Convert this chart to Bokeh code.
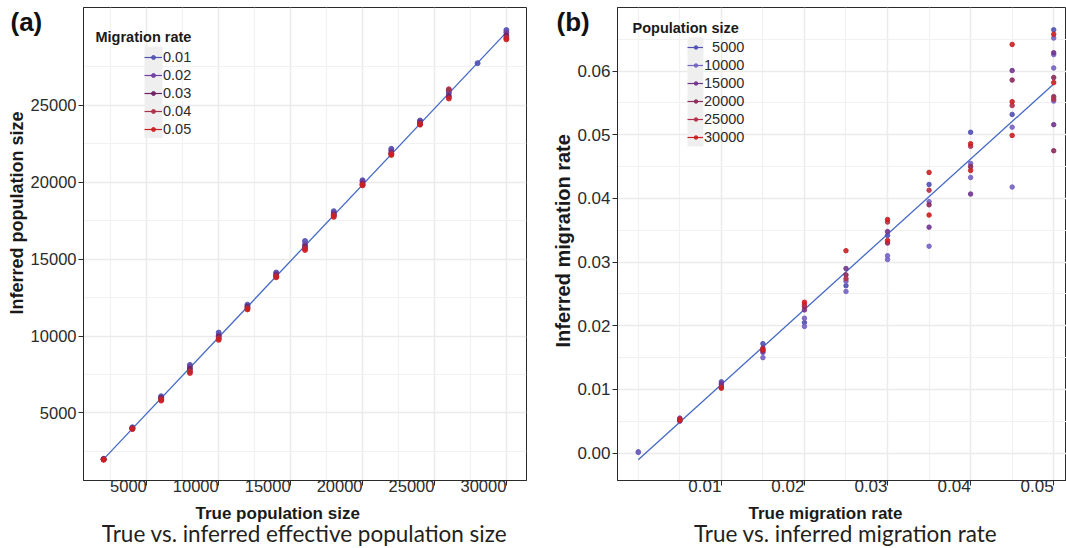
import numpy as np
from bokeh.plotting import figure
from bokeh.layouts import row
from bokeh.models import (FixedTicker, Legend, LegendItem, Label, Title,
                          BoxAnnotation, GridBox)
from bokeh.embed import file_html
from bokeh.resources import INLINE

# ---------------- data: panel (a) ----------------
rate_labels = ["0.01", "0.02", "0.03", "0.04", "0.05"]
rate_colors = ["#5151b3", "#6d3f9e", "#6e2160", "#a83249", "#cc1f22"]
true_n_all = [2000, 4000, 6000, 8000, 10000, 12000, 14000, 16000, 18000,
              20000, 22000, 24000, 26000, 28000, 30000]
true_n_sub = [2000, 4000, 6000, 8000, 10000, 12000, 14000, 16000, 18000,
              20000, 22000, 24000, 26000, 30000]
inf_n_r01 = [2010, 4060, 6080, 8120, 10220, 12040, 14130, 16180, 18120,
             20130, 22180, 24020, 25800, 27750, 29900]
inf_n_r02 = [1990, 4020, 6000, 8000, 10050, 11950, 14050, 15950, 18000,
             20050, 22050, 23950, 25950, 29750]
inf_n_r03 = [1980, 3990, 5950, 7850, 9950, 11880, 13950, 15800, 17900,
             19900, 21900, 23850, 25600, 29550]
inf_n_r04 = [1970, 3970, 5880, 7700, 9850, 11800, 13880, 15700, 17850,
             19850, 21850, 23800, 26050, 29400]
inf_n_r05 = [1950, 3950, 5800, 7600, 9750, 11730, 13820, 15600, 17750,
             19800, 21780, 23750, 25450, 29300]
fit_n_x = [2000, 30000]
fit_n_y = [1990, 29750]
a_xticks = [5000, 10000, 15000, 20000, 25000, 30000]
a_yticks = [5000, 10000, 15000, 20000, 25000]
a_minor = [2500, 7500, 12500, 17500, 22500, 27500]

# ---------------- data: panel (b) ----------------
pop_labels = ["5000", "10000", "15000", "20000", "25000", "30000"]
pop_colors = ["#5151b3", "#7563c2", "#72358f", "#8b2a5b", "#b5304a", "#cc1f22"]
m_p5000_x = [0.0, 0.005, 0.01, 0.015, 0.02, 0.025, 0.03, 0.035, 0.04, 0.045, 0.05]
m_p5000_y = [0.0002, 0.0055, 0.0112, 0.0172, 0.0205, 0.0263, 0.0342, 0.0422, 0.0504, 0.0532, 0.0665]
m_p10000_x = [0.0, 0.005, 0.01, 0.015, 0.015, 0.02, 0.02, 0.025, 0.025, 0.03, 0.03, 0.035, 0.035,
              0.04, 0.04, 0.045, 0.045, 0.05, 0.05, 0.05, 0.05]
m_p10000_y = [0.0001, 0.0050, 0.0107, 0.0150, 0.0158, 0.0199, 0.0212, 0.0254, 0.0270, 0.0310, 0.0304,
              0.0325, 0.0395, 0.0433, 0.0455, 0.0418, 0.0512, 0.0652, 0.0605, 0.0553, 0.0626]
m_p15000_x = [0.005, 0.01, 0.015, 0.02, 0.025, 0.03, 0.035, 0.04, 0.045, 0.05, 0.05]
m_p15000_y = [0.0053, 0.0109, 0.0160, 0.0225, 0.0290, 0.0348, 0.0355, 0.0407, 0.0601, 0.0629, 0.0516]
m_p20000_x = [0.005, 0.01, 0.015, 0.02, 0.025, 0.03, 0.035, 0.04, 0.045, 0.05, 0.05, 0.05]
m_p20000_y = [0.0051, 0.0104, 0.0165, 0.0230, 0.0280, 0.0330, 0.0390, 0.0450, 0.0586, 0.0590, 0.0475, 0.0560]
m_p25000_x = [0.005, 0.01, 0.015, 0.02, 0.025, 0.03, 0.035, 0.04, 0.045, 0.05]
m_p25000_y = [0.0054, 0.0103, 0.0163, 0.0233, 0.0274, 0.0363, 0.0413, 0.0482, 0.0546, 0.0556]
m_p30000_x = [0.005, 0.01, 0.015, 0.02, 0.025, 0.03, 0.03, 0.035, 0.035, 0.04, 0.04, 0.045, 0.045,
              0.045, 0.05, 0.05]
m_p30000_y = [0.0052, 0.0102, 0.0162, 0.0237, 0.0318, 0.0367, 0.0334, 0.0441, 0.0374, 0.0486, 0.0444,
              0.0642, 0.0499, 0.0552, 0.0658, 0.0582]
fit_m_x = [0.0, 0.05]
fit_m_y = [-0.00104, 0.0580]
b_xticks = [0.01, 0.02, 0.03, 0.04, 0.05]
b_xminor = [0.0, 0.005, 0.015, 0.025, 0.035, 0.045]
b_yticks = [0.0, 0.01, 0.02, 0.03, 0.04, 0.05, 0.06]
b_yminor = [0.005, 0.015, 0.025, 0.035, 0.045, 0.055, 0.065]

captions = ["True vs. inferred effective population size", "True vs. inferred migration rate"]
panel_tags = ["(a)", "(b)"]

TICK_FONT = "Liberation Sans"
LINE_COLOR = "#4469c6"
DARK = "#2a2a2a"


def base_style(p, xt, xm, yt, ym, fs):
    p.xaxis.ticker = FixedTicker(ticks=xt, minor_ticks=xm)
    p.yaxis.ticker = FixedTicker(ticks=yt, minor_ticks=ym)
    for ax in (p.xaxis[0], p.yaxis[0]):
        ax.major_label_text_font = TICK_FONT
        ax.major_label_text_font_size = fs
        ax.major_label_text_color = "#2b2b2b"
        ax.axis_line_color = DARK
        ax.major_tick_line_color = DARK
        ax.major_tick_out = 5
        ax.major_tick_in = 0
        ax.minor_tick_out = 0
        ax.minor_tick_in = 0
        ax.major_label_standoff = 2
    p.xaxis.major_label_orientation = 0.0001
    p.xaxis.major_label_standoff = 0
    for g in (p.xgrid[0], p.ygrid[0]):
        g.grid_line_color = "#ebebeb"
        g.grid_line_width = 1.5
        g.minor_grid_line_color = "#f1f1f1"
        g.minor_grid_line_width = 1.2
    p.outline_line_color = DARK
    p.outline_line_width = 1
    p.background_fill_color = "white"
    p.border_fill_color = "white"


def add_titles(p, xtitle, xoff, ytitle, yoff, yfs):
    p.add_layout(Title(text=ytitle, align="left", offset=yoff, text_font=TICK_FONT,
                       text_font_size=yfs, text_font_style="bold",
                       text_color="#1a1a1a", standoff=2), "left")
    p.add_layout(Title(text=xtitle, align="left", offset=xoff, text_font=TICK_FONT,
                       text_font_size="17px", text_font_style="bold",
                       text_color="#1a1a1a", standoff=2), "below")


def add_legend(p, labels, scatters, lines, x, y, gw, dotw, strip_h):
    p.add_layout(BoxAnnotation(left=x, right=x + gw, top=y + strip_h, bottom=y,
                               left_units="screen", right_units="screen",
                               top_units="screen", bottom_units="screen",
                               fill_color="#efefef", fill_alpha=1, line_color=None))
    common = dict(orientation="vertical", padding=0, margin=0, spacing=0,
                  glyph_height=18, label_height=18, border_line_color=None,
                  background_fill_alpha=0, label_text_font=TICK_FONT,
                  label_text_font_size="14.5px", label_text_color="#2b2b2b")
    leg_lines = Legend(items=[LegendItem(label=l, renderers=[d]) for l, d in zip(labels, lines)],
                       location=(x, y), glyph_width=gw, label_standoff=1, **common)
    leg_dots = Legend(items=[LegendItem(label="", renderers=[r]) for r in scatters],
                      location=(x + (gw - dotw) / 2, y), glyph_width=dotw, label_standoff=0,
                      **common)
    leg_dots.label_text_alpha = 0
    p.add_layout(leg_lines)
    p.add_layout(leg_dots)


# ---------------- panel (a) ----------------
pa = figure(width=545, height=548, x_range=(600, 31400), y_range=(600, 31370),
            output_backend="svg", toolbar_location=None,
            min_border_left=83, min_border_right=19, min_border_top=7, min_border_bottom=68)
base_style(pa, a_xticks, a_minor, a_yticks, a_minor, "16.5px")
pa.line(fit_n_x, fit_n_y, line_color=LINE_COLOR, line_width=1.3)

a_series = [(true_n_all, inf_n_r01), (true_n_sub, inf_n_r02), (true_n_sub, inf_n_r03),
            (true_n_sub, inf_n_r04), (true_n_sub, inf_n_r05)]
a_sc, a_ln = [], []
for (xs, ys), col in zip(a_series, rate_colors):
    a_sc.append(pa.scatter(xs, ys, size=5, fill_color=col, line_color=col, alpha=0.9))
    a_ln.append(pa.line(x=[np.nan], y=[np.nan], line_color=col, line_width=1.2))
add_legend(pa, rate_labels, a_sc, a_ln, 61, 480 - 137.5, 18, 10, 91.5)
pa.add_layout(Label(x=12, y=480 - 36, x_units="screen", y_units="screen",
                    text="Migration rate", text_font=TICK_FONT, text_font_size="14.5px",
                    text_font_style="bold", text_color="#1a1a1a", text_baseline="middle"))
add_titles(pa, "True population size", 112, "Inferred population size", 166, "18px")

# ---------------- panel (b) ----------------
pb = figure(width=521, height=548, x_range=(-0.0025, 0.05154), y_range=(-0.0043, 0.0700),
            output_backend="svg", toolbar_location=None,
            min_border_left=72, min_border_right=0, min_border_top=7, min_border_bottom=68)
base_style(pb, b_xticks, b_xminor, b_yticks, b_yminor, "17px")
pb.xaxis.major_label_overrides = {v: f"{v:.2f}" for v in b_xticks}
pb.yaxis.major_label_overrides = {v: f"{v:.2f}" for v in b_yticks}
pb.line(fit_m_x, fit_m_y, line_color=LINE_COLOR, line_width=1.3)

b_series = [(m_p5000_x, m_p5000_y), (m_p10000_x, m_p10000_y), (m_p15000_x, m_p15000_y),
            (m_p20000_x, m_p20000_y), (m_p25000_x, m_p25000_y), (m_p30000_x, m_p30000_y)]
b_sc, b_ln = [], []
for (xs, ys), col in zip(b_series, pop_colors):
    b_sc.append(pb.scatter(xs, ys, size=4.5, fill_color=col, line_color=col, alpha=0.9))
    b_ln.append(pb.line(x=[np.nan], y=[np.nan], line_color=col, line_width=1.2))
b_shown = [lab.rjust(5, "\u2007") for lab in pop_labels]
add_legend(pb, b_shown, b_sc, b_ln, 70, 480 - 146, 16, 9, 109)
pb.add_layout(Label(x=15, y=480 - 27, x_units="screen", y_units="screen",
                    text="Population size", text_font=TICK_FONT, text_font_size="14.5px",
                    text_font_style="bold", text_color="#1a1a1a", text_baseline="middle"))
add_titles(pb, "True migration rate", 131, "Inferred migration rate", 133, "20px")

# ---------------- overlay for panel tags and captions ----------------
ov = figure(width=1066, height=548, x_range=(0, 1066), y_range=(548, 0),
            output_backend="svg", toolbar_location=None, min_border=0)
ov.axis.visible = False
ov.grid.visible = False
ov.outline_line_color = None
ov.background_fill_alpha = 0
ov.border_fill_alpha = 0
for tag, tx in zip(panel_tags, [10, 556]):
    ov.add_layout(Label(x=tx, y=6, text=tag, text_font=TICK_FONT, text_font_size="26px",
                        text_font_style="bold", text_color="#111111", text_baseline="top"))
for cap, cx in zip(captions, [304, 845]):
    ov.add_layout(Label(x=cx, y=519, text=cap, text_font="Lato", text_font_size="22.5px",
                        text_color="#231f20", text_align="center", text_baseline="top"))

panels = row(pa, pb, spacing=0)
layout = GridBox(children=[(panels, 0, 0), (ov, 0, 0)], spacing=0)
open("out.html", "w").write(file_html(layout, INLINE))
